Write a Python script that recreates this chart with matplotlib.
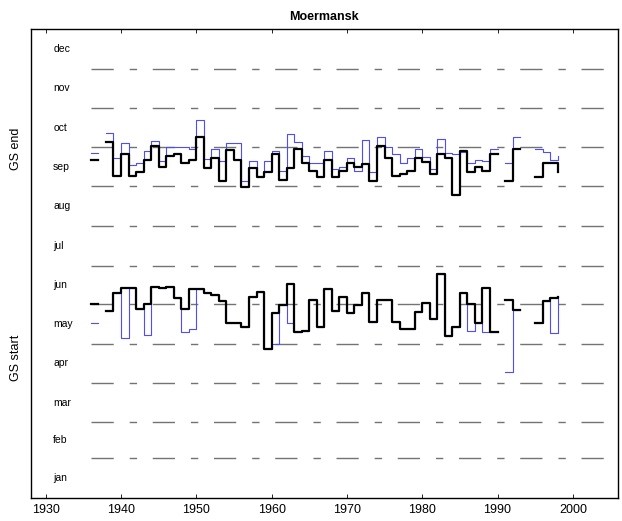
import numpy as np
import matplotlib
matplotlib.use('Agg')
import matplotlib.pyplot as plt

plt.rcParams['font.family'] = ['Liberation Sans', 'DejaVu Sans']

nan = np.nan
years = np.arange(1936, 1999)

# groeiseizoen einde (dag van het jaar)
end_black = [263, nan, 277, 251, 268, 251, 254, 263, 274, 258,
             266, 268, 261, 263, 281, 257, 265, 247, 271, 263,
             242, 257, 250, 254, 268, 248, 257, 272, 261, 255,
             250, 263, 250, 255, 261, 258, 260, 247, 274, 265,
             251, 252, 255, 265, 262, 252, 268, 265, 236, 270,
             254, 258, 255, 268, nan, 247, 272, nan, nan, 250,
             261, 261, 254]
end_blue = [268.5, nan, 284.5, 264.6, 276.7, 259.4, 261.2, 270.5, 278.3, 262.5,
            273.6, 273.6, 273.6, 272, 294.4, 263.8, 272, 262.7, 276.7, 276.7,
            247.2, 262.5, 250.8, 262.5, 270.5, 254.7, 283.5, 277.5, 266.4, 260.7,
            260.7, 270.5, 256.3, 258, 264.6, 255, 278.8, 253.7, 281.4, 273.6,
            267.7, 261.2, 264.6, 271.6, 265.5, 256.3, 279.9, 268.5, 267.7, 269.7,
            261.2, 263.3, 262.5, 271.6, nan, 260.7, 281.4, nan, nan, 271.8,
            269.7, 263.3, 266.4]

# groeiseizoen start
start_black = [151.4, nan, 146, 160, 164, 164, 147.3, 151.4, 164.7, 163.4,
               164.7, 156, 147.3, 162.9, 162.9, 159.5, 158, 153.5, 136.7, 136.2,
               133.6, 157, 160.8, 116, 144, 150.4, 166.8, 129.2, 130.2, 154.3,
               133.6, 162.9, 146, 156.9, 144.5, 150.4, 160, 137, 154.3, 154.3,
               137.5, 131.7, 131.7, 144.7, 151.7, 139.7, 174.5, 126.3, 133.6, 159.5,
               151.2, 136.2, 163.9, 129.7, nan, 154.3, 146.5, nan, nan, 136.7,
               153.5, 156.1, 156.9]
start_blue = [136.2, nan, 146, 160, 125, 164, 147.3, 127, 164.7, 163.4,
              164.7, 156, 129.7, 131.7, 162.9, 159.5, 158, 153.5, 136.7, 136.2,
              133.6, 157, 160.8, 116, 120, 150.4, 136.2, 129.2, 130.2, 154.3,
              133.6, 162.9, 146, 156.9, 144.5, 150.4, 160, 137, 154.3, 154.3,
              137.5, 131.7, 131.7, 144.7, 151.7, 139.7, 174.5, 126.3, 133.6, 159.5,
              130.2, 136.2, 129.7, 129.7, nan, 98.5, 146.5, nan, nan, 136.7,
              153.5, 128.9, 156.9]

months = ['jan', 'feb', 'mar', 'apr', 'may', 'jun',
          'jul', 'aug', 'sep', 'oct', 'nov', 'dec']
month_len = [31, 28, 31, 30, 31, 30, 31, 31, 30, 31, 30, 31]

month_start = np.concatenate([[0], np.cumsum(month_len)[:-1]])
month_mid = month_start + np.array(month_len) / 2.0

fig = plt.figure(figsize=(6.22, 5.21), dpi=100)
ax = fig.add_axes([0.0492, 0.0436, 0.9444, 0.9002])

# maandgrenzen
for d in month_start[1:]:
    ax.plot([1936, 2006], [d, d], color='0.45', linewidth=1.0,
            dashes=(16, 11.5, 5.3, 11.3))

for m, y in zip(months, month_mid):
    ax.text(1931, y, m, fontsize=7.5, ha='left', va='center')

blauw = (0.3, 0.3, 1.0)
ax.step(years, end_blue, where='post', color=blauw, linewidth=0.8)
ax.step(years, start_blue, where='post', color=blauw, linewidth=0.8)
ax.step(years, end_black, where='post', color='black', linewidth=1.6)
ax.step(years, start_black, where='post', color='black', linewidth=1.6)

ax.set_xlim(1928, 2006)
ax.set_ylim(0, 365)
ax.set_xticks(np.arange(1930, 2001, 10))
ax.set_yticks([])
ax.tick_params(axis='x', direction='in', top=True, length=3, width=0.6,
               labelsize=9, pad=4)
for s in ax.spines.values():
    s.set_linewidth(1.0)

ax.set_title('Moermansk', fontsize=9, fontweight='bold', pad=7)
ax.text(-0.025, 272, 'GS end', transform=ax.get_yaxis_transform(),
        rotation=90, ha='center', va='center', fontsize=9)
ax.text(-0.025, 109, 'GS start', transform=ax.get_yaxis_transform(),
        rotation=90, ha='center', va='center', fontsize=9)

fig.savefig('out.png', dpi=100)
